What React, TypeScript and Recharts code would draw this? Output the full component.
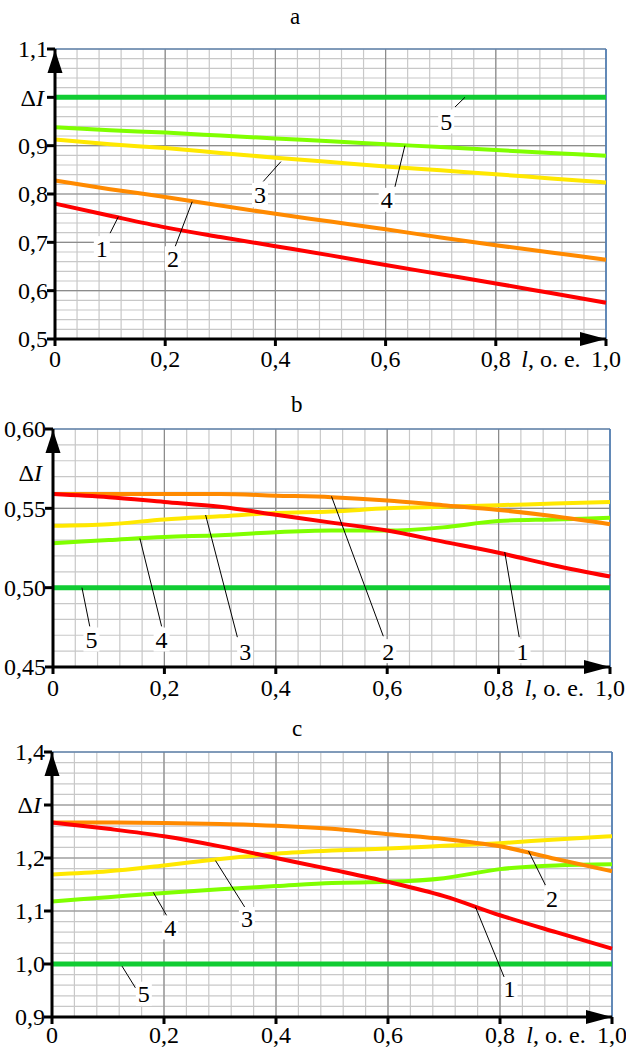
import React from 'react'
import {
    LineChart,
    Line,
    XAxis,
    YAxis,
    CartesianGrid,
    ReferenceLine,
    ReferenceDot
} from 'recharts'

// relative length l, o. e.
const lValues = [0, 0.1, 0.2, 0.3, 0.4, 0.5, 0.6, 0.7, 0.8, 0.9, 1.0]

// panel a
const aCurve1 = [0.78, 0.755, 0.731, 0.711, 0.692, 0.673, 0.653, 0.634, 0.615, 0.595, 0.575]
const aCurve2 = [0.828, 0.81, 0.794, 0.776, 0.759, 0.743, 0.727, 0.71, 0.694, 0.679, 0.664]
const aCurve3 = [0.913, 0.903, 0.895, 0.885, 0.875, 0.866, 0.857, 0.849, 0.841, 0.832, 0.824]
const aCurve4 = [0.938, 0.932, 0.927, 0.921, 0.915, 0.909, 0.903, 0.897, 0.891, 0.885, 0.879]
const aCurve5 = [1.0, 1.0, 1.0, 1.0, 1.0, 1.0, 1.0, 1.0, 1.0, 1.0, 1.0]

// panel b
const bCurve1 = [0.559, 0.557, 0.554, 0.551, 0.546, 0.541, 0.536, 0.529, 0.522, 0.514, 0.507]
const bCurve2 = [0.559, 0.559, 0.559, 0.559, 0.558, 0.557, 0.555, 0.552, 0.549, 0.545, 0.54]
const bCurve3 = [0.539, 0.54, 0.543, 0.545, 0.547, 0.548, 0.55, 0.551, 0.552, 0.553, 0.554]
const bCurve4 = [0.528, 0.53, 0.532, 0.533, 0.535, 0.536, 0.536, 0.538, 0.542, 0.543, 0.544]
const bCurve5 = [0.5, 0.5, 0.5, 0.5, 0.5, 0.5, 0.5, 0.5, 0.5, 0.5, 0.5]

// panel c
const cCurve1 = [1.267, 1.255, 1.241, 1.222, 1.2, 1.178, 1.155, 1.128, 1.092, 1.06, 1.029]
const cCurve2 = [1.267, 1.267, 1.266, 1.264, 1.261, 1.255, 1.245, 1.236, 1.222, 1.198, 1.175]
const cCurve3 = [1.169, 1.175, 1.186, 1.198, 1.208, 1.214, 1.218, 1.223, 1.228, 1.235, 1.241]
const cCurve4 = [1.118, 1.126, 1.134, 1.141, 1.147, 1.153, 1.155, 1.162, 1.179, 1.186, 1.188]
const cCurve5 = [1.0, 1.0, 1.0, 1.0, 1.0, 1.0, 1.0, 1.0, 1.0, 1.0, 1.0]

const UNIT_AT = 0.9
const xTicks = [0, 0.2, 0.4, 0.6, 0.8, UNIT_AT, 1.0]
const aYTicks = [0.5, 0.6, 0.7, 0.8, 0.9, 1.0, 1.1]
const bYTicks = [0.45, 0.5, 0.55, 0.5725, 0.6]
const cYTicks = [0.9, 1.0, 1.1, 1.2, 1.3, 1.4]

// curve number leaders: point on curve -> end of leader, label position
const aLabels = [
    { n: '1', x1: 0.115, y1: 0.753, x2: 0.1, y2: 0.719, lx: 0.085, ly: 0.688 },
    { n: '2', x1: 0.249, y1: 0.784, x2: 0.218, y2: 0.691, lx: 0.214, ly: 0.667 },
    { n: '3', x1: 0.41, y1: 0.867, x2: 0.378, y2: 0.826, lx: 0.372, ly: 0.798 },
    { n: '4', x1: 0.635, y1: 0.9, x2: 0.617, y2: 0.815, lx: 0.602, ly: 0.788 },
    { n: '5', x1: 0.744, y1: 1.0, x2: 0.726, y2: 0.98, lx: 0.71, ly: 0.95 }
]
const bLabels = [
    { n: '5', x1: 0.052, y1: 0.5, x2: 0.066, y2: 0.4756, lx: 0.069, ly: 0.4673 },
    { n: '4', x1: 0.156, y1: 0.531, x2: 0.195, y2: 0.4756, lx: 0.195, ly: 0.4673 },
    { n: '3', x1: 0.274, y1: 0.5458, x2: 0.331, y2: 0.4688, lx: 0.345, ly: 0.46 },
    { n: '2', x1: 0.5, y1: 0.5575, x2: 0.593, y2: 0.4694, lx: 0.602, ly: 0.46 },
    { n: '1', x1: 0.811, y1: 0.5225, x2: 0.837, y2: 0.4688, lx: 0.843, ly: 0.46 }
]
const cLabels = [
    { n: '4', x1: 0.181, y1: 1.135, x2: 0.205, y2: 1.091, lx: 0.211, ly: 1.069 },
    { n: '3', x1: 0.292, y1: 1.195, x2: 0.345, y2: 1.106, lx: 0.348, ly: 1.085 },
    { n: '5', x1: 0.125, y1: 0.996, x2: 0.149, y2: 0.955, lx: 0.164, ly: 0.944 },
    { n: '2', x1: 0.851, y1: 1.213, x2: 0.881, y2: 1.149, lx: 0.893, ly: 1.124 },
    { n: '1', x1: 0.756, y1: 1.108, x2: 0.8125, y2: 0.962, lx: 0.817, ly: 0.953 }
]

const FONT = "'Liberation Serif', 'Times New Roman', serif"
const COLORS = ['#ff0000', '#ff8a00', '#ffe800', '#80ff00', '#11cc33']
const textStyle: React.CSSProperties = { fontFamily: FONT, fontSize: 24 }

function steps(from: number, to: number, step: number) {
    const out: number[] = []
    const n = Math.round((to - from) / step)
    for (let i = 0; i <= n; i++) out.push(Math.round((from + i * step) * 10000) / 10000)
    return out
}

function buildRows(curves: number[][]) {
    return lValues.map((l, i) => ({
        l,
        c1: curves[0][i],
        c2: curves[1][i],
        c3: curves[2][i],
        c4: curves[3][i],
        c5: curves[4][i]
    }))
}

interface PanelProps {
    rows: any[]
    width: number
    height: number
    margin: { top: number; right: number; bottom: number; left: number }
    yAxisWidth: number
    yDomain: [number, number]
    yTicks: number[]
    yMinorStep: number
    yMajorStep: number
    decimals: number
    deltaAt: number
    deltaTick: boolean
    xLabelOffset: number
    labels: { n: string; x1: number; y1: number; x2: number; y2: number; lx: number; ly: number }[]
}

function Panel(p: PanelProps) {
    const [y0, y1] = p.yDomain

    const renderYTick = (props: any) => {
        const { x, y, payload } = props
        const v = payload.value
        const isDelta = Math.abs(v - p.deltaAt) < 1e-6
        const showMark = !isDelta || p.deltaTick
        return (
            <g>
                {showMark && <line x1={x - 8} x2={x} y1={y} y2={y} stroke="#000" strokeWidth={3} />}
                {isDelta ? (
                    <text x={x - 11} y={y} dy="0.35em" textAnchor="end" style={textStyle} fill="#000">
                        Δ<tspan fontStyle="italic">I</tspan>
                    </text>
                ) : (
                    <text x={x - 7} y={y} dy="0.35em" textAnchor="end" style={textStyle} fill="#000">
                        {v.toFixed(p.decimals).replace('.', ',')}
                    </text>
                )}
            </g>
        )
    }

    const renderXTick = (props: any) => {
        const { x, y, payload } = props
        const v = payload.value
        const ty = y + p.xLabelOffset
        if (Math.abs(v - UNIT_AT) < 1e-6) {
            return (
                <text x={x} y={ty} dy="0.35em" textAnchor="middle" style={textStyle} fill="#000">
                    <tspan fontStyle="italic">l</tspan>, o. e.
                </text>
            )
        }
        return (
            <g>
                <line x1={x} x2={x} y1={y} y2={y + 7} stroke="#000" strokeWidth={3} />
                <text x={x} y={ty} dy="0.35em" textAnchor="middle" style={textStyle} fill="#000">
                    {v === 0 ? '0' : v.toFixed(1).replace('.', ',')}
                </text>
            </g>
        )
    }

    const labelShape = (n: string) => (props: any) => {
        const { cx, cy } = props
        return (
            <g>
                <rect x={cx - 8} y={cy - 12} width={16} height={24} fill="#fff" />
                <text x={cx} y={cy} dy="0.35em" textAnchor="middle" style={textStyle} fill="#000">
                    {n}
                </text>
            </g>
        )
    }

    const upArrow = (props: any) => {
        const { cx, cy } = props
        return <path d={`M${cx},${cy + 1} L${cx - 7.5},${cy + 24} L${cx + 7.5},${cy + 24} Z`} fill="#000" />
    }
    const rightArrow = (props: any) => {
        const { cx, cy } = props
        return <path d={`M${cx},${cy} L${cx - 26},${cy - 7} L${cx - 26},${cy + 7} Z`} fill="#000" />
    }

    return (
        <LineChart width={p.width} height={p.height} data={p.rows} margin={p.margin}>
            <CartesianGrid
                stroke="#c8c8c8"
                strokeWidth={1.2}
                verticalValues={steps(0, 1, 0.04)}
                horizontalValues={steps(y0, y1, p.yMinorStep)}
            />
            <CartesianGrid
                stroke="#8c8c8c"
                strokeWidth={1.2}
                verticalValues={steps(0, 1, 0.2)}
                horizontalValues={steps(y0, y1, p.yMajorStep)}
            />
            <XAxis
                dataKey="l"
                type="number"
                domain={[0, 1]}
                ticks={xTicks}
                interval={0}
                height={30}
                tickSize={0}
                tickMargin={0}
                tickLine={false}
                axisLine={{ stroke: '#000', strokeWidth: 3 }}
                tick={renderXTick}
            />
            <YAxis
                type="number"
                domain={p.yDomain}
                ticks={p.yTicks}
                interval={0}
                width={p.yAxisWidth}
                tickSize={0}
                tickMargin={0}
                tickLine={false}
                axisLine={{ stroke: '#000', strokeWidth: 3 }}
                tick={renderYTick}
                allowDataOverflow
            />
            <ReferenceLine y={y1} stroke="#4a7ebb" strokeWidth={1} />
            <ReferenceLine x={1} stroke="#4a7ebb" strokeWidth={1.5} />
            <Line dataKey="c5" type="monotone" stroke={COLORS[4]} strokeWidth={5} dot={false} isAnimationActive={false} />
            <Line dataKey="c4" type="monotone" stroke={COLORS[3]} strokeWidth={4} dot={false} isAnimationActive={false} />
            <Line dataKey="c3" type="monotone" stroke={COLORS[2]} strokeWidth={4} dot={false} isAnimationActive={false} />
            <Line dataKey="c2" type="monotone" stroke={COLORS[1]} strokeWidth={4} dot={false} isAnimationActive={false} />
            <Line dataKey="c1" type="monotone" stroke={COLORS[0]} strokeWidth={4} dot={false} isAnimationActive={false} />
            {p.labels.map((lb) => (
                <ReferenceLine
                    key={'seg' + lb.n}
                    segment={[{ x: lb.x1, y: lb.y1 }, { x: lb.x2, y: lb.y2 }]}
                    stroke="#000"
                    strokeWidth={1}
                    ifOverflow="visible"
                />
            ))}
            {p.labels.map((lb) => (
                <ReferenceDot key={'lab' + lb.n} x={lb.lx} y={lb.ly} r={0} ifOverflow="visible" shape={labelShape(lb.n)} />
            ))}
            <ReferenceDot x={0} y={y1} r={0} ifOverflow="visible" shape={upArrow} />
            <ReferenceDot x={1} y={y0} r={0} ifOverflow="visible" shape={rightArrow} />
        </LineChart>
    )
}

const titleStyle: React.CSSProperties = {
    position: 'absolute',
    fontFamily: FONT,
    fontSize: 23,
    lineHeight: '23px',
    color: '#000'
}

export default function App() {
    const aRows = buildRows([aCurve1, aCurve2, aCurve3, aCurve4, aCurve5])
    const bRows = buildRows([bCurve1, bCurve2, bCurve3, bCurve4, bCurve5])
    const cRows = buildRows([cCurve1, cCurve2, cCurve3, cCurve4, cCurve5])

    return (
        <div style={{ position: 'absolute', left: 0, top: 0, width: 626, height: 1048, background: '#fff', overflow: 'hidden' }}>
            <div style={{ ...titleStyle, left: 290, top: 5 }}>a</div>
            <div style={{ ...titleStyle, left: 291, top: 393 }}>b</div>
            <div style={{ ...titleStyle, left: 292, top: 717 }}>c</div>

            <div style={{ position: 'absolute', left: 0, top: 0 }}>
                <Panel
                    rows={aRows}
                    width={626}
                    height={375}
                    margin={{ top: 49, right: 20, bottom: 6, left: 0 }}
                    yAxisWidth={55}
                    yDomain={[0.5, 1.1]}
                    yTicks={aYTicks}
                    yMinorStep={0.02}
                    yMajorStep={0.1}
                    decimals={1}
                    deltaAt={1.0}
                    deltaTick={true}
                    xLabelOffset={20}
                    labels={aLabels}
                />
            </div>
            <div style={{ position: 'absolute', left: 0, top: 375 }}>
                <Panel
                    rows={bRows}
                    width={626}
                    height={330}
                    margin={{ top: 54, right: 16, bottom: 8, left: 0 }}
                    yAxisWidth={53}
                    yDomain={[0.45, 0.6]}
                    yTicks={bYTicks}
                    yMinorStep={0.01}
                    yMajorStep={0.05}
                    decimals={2}
                    deltaAt={0.5725}
                    deltaTick={false}
                    xLabelOffset={21}
                    labels={bLabels}
                />
            </div>
            <div style={{ position: 'absolute', left: 0, top: 705 }}>
                <Panel
                    rows={cRows}
                    width={626}
                    height={343}
                    margin={{ top: 47, right: 14, bottom: 1, left: 0 }}
                    yAxisWidth={52}
                    yDomain={[0.9, 1.4]}
                    yTicks={cYTicks}
                    yMinorStep={0.02}
                    yMajorStep={0.1}
                    decimals={1}
                    deltaAt={1.3}
                    deltaTick={true}
                    xLabelOffset={18}
                    labels={cLabels}
                />
            </div>
        </div>
    )
}
